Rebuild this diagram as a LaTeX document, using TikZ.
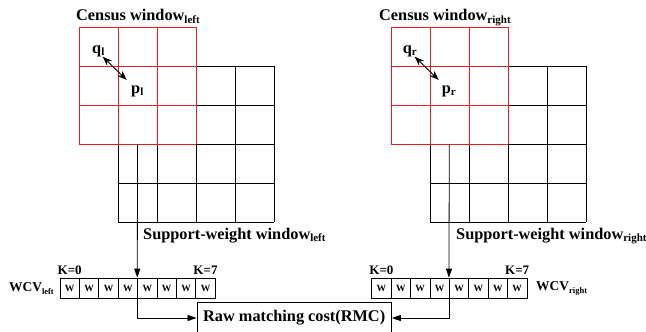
\documentclass[tikz,border=0pt]{standalone}
\usepackage{fontspec}
\setmainfont{Liberation Serif}
\usetikzlibrary{arrows.meta}
\definecolor{gridred}{RGB}{232,28,36}
\newcommand\mysub[2][11]{\raisebox{-0.35ex}{\fontsize{#1}{#1}\selectfont #2}}
\begin{document}
\begin{tikzpicture}[x=1pt,y=-1pt,
  lbl/.style={font=\fontsize{16.3}{18}\selectfont\bfseries, inner sep=0pt},
  wcell/.style={draw, line width=0.7pt, minimum width=19.4pt, minimum height=20pt, inner sep=0pt, font=\fontsize{9.5}{10}\selectfont\bfseries},
  klbl/.style={font=\fontsize{13}{14}\selectfont\bfseries, inner sep=0pt},
  wcvlbl/.style={font=\fontsize{13.5}{14}\selectfont\bfseries, inner sep=0pt},
  gridline/.style={line width=0.8pt},
  conn/.style={line width=0.8pt, -{Triangle[length=9pt,width=6pt]}},
  dbl/.style={line width=0.9pt, {Stealth[length=9.5pt,width=7pt]}-{Stealth[length=9.5pt,width=7pt]}}
]
\useasboundingbox (0,0) rectangle (646,332);

% ---------- grids ----------
\foreach \o in {0,312} {
  \foreach \i in {0,...,4} {
    \draw[gridline] (118+\o+39*\i,66) -- (118+\o+39*\i,222);
    \draw[gridline] (118+\o,66+39*\i) -- (274+\o,66+39*\i);
  }
  \foreach \i in {0,...,3} {
    \draw[gridline,gridred] (79+\o+39*\i,27) -- (79+\o+39*\i,144);
    \draw[gridline,gridred] (79+\o,27+39*\i) -- (196+\o,27+39*\i);
  }
}

% ---------- labels ----------
\node[lbl, anchor=base west] (cwl) at (76,20.5) {Census window\mysub{left}};
\node[lbl, anchor=base west] (cwr) at (379,20.5) {Census window\mysub{right}};
\node[lbl, anchor=base west] (swl) at (143,239) {Support-weight window\mysub{left}};
\node[lbl, anchor=base west] (swr) at (456,239) {Support-weight window\mysub{right}};

\node[lbl, anchor=base west] (ql) at (92,53) {q\mysub{l}};
\node[lbl, anchor=base west] (pl) at (131,93) {p\mysub{l}};
\node[lbl, anchor=base west] (qr) at (402.7,53) {q\mysub{r}};
\node[lbl, anchor=base west] (pr) at (441.7,93) {p\mysub{r}};

\coordinate (qla) at (102.7,56.7);
\coordinate (pla) at (126.7,80);
\coordinate (qra) at (414.7,56.7);
\coordinate (pra) at (438.7,80);
\draw[dbl] (qla) -- (pla);
\draw[dbl] (qra) -- (pra);

% ---------- WCV rows ----------
\foreach \i in {0,...,7} {
  \node[wcell] (wl\i) at (69.7+19.4*\i,288) {W};
  \node[wcell] (wr\i) at (381.4+19.4*\i,288) {W};
}
\node[klbl] (kl0) at (69.7,270) {K=0};
\node[klbl] (kl7) at (205.5,270) {K=7};
\node[klbl] (kr0) at (381.4,270) {K=0};
\node[klbl] (kr7) at (517.2,270) {K=7};

\node[wcvlbl, anchor=east] (wcvl) at (54,288.5) {WCV\mysub[8.5]{left}};
\node[wcvlbl, anchor=west] (wcvr) at (536,288.5) {WCV\mysub[8.5]{right}};

% ---------- RMC ----------
\node[draw, line width=0.8pt, minimum width=194.5pt, minimum height=32pt, inner sep=0pt,
      font=\fontsize{16.3}{18}\selectfont\bfseries] (rmc) at (294.2,318) {Raw matching cost(RMC)};

% ---------- connectors ----------
\coordinate (sl) at (137.6,144);
\coordinate (sr) at (449.3,144);
\draw[conn] (sl) -- (wl4.north west);
\draw[conn] (sr) -- (wr4.north west);
\draw[conn] (wl4.south west) |- (rmc.west);
\draw[conn] (wr4.south west) |- (rmc.east);
\end{tikzpicture}
\end{document}
